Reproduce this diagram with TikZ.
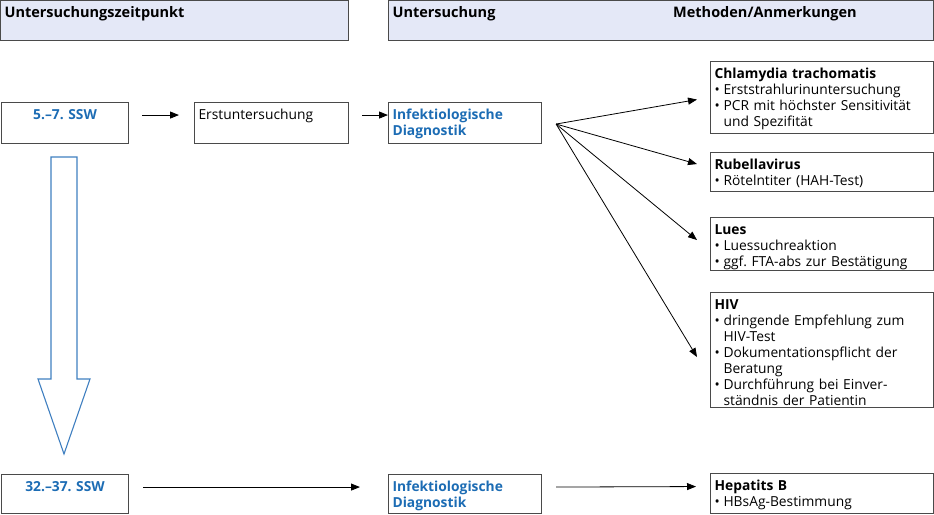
\documentclass[tikz,border=0pt]{standalone}
\usepackage{fontspec}
\setmainfont{Open Sans}
\usetikzlibrary{arrows.meta}
\definecolor{kopf}{HTML}{E4E8F7}
\definecolor{blau}{HTML}{1C6CB4}
\definecolor{pfeilblau}{HTML}{3F7FC0}
\definecolor{rand}{HTML}{4A4A4A}
\frenchspacing
\newcommand{\pkt}[1]{\par\hangindent=9pt\hangafter=1\noindent\makebox[9pt][l]{\textbullet}#1\par}
\begin{document}
\begin{tikzpicture}[x=1pt,y=-1pt,
  feld/.style 2 args={draw=rand, line width=1.1pt, anchor=north west, align=left, inner xsep=4pt, inner ysep=2pt,
    text width=#1, text height=15pt, text depth=#2, font=\fontsize{13.8}{16}\selectfont},
  kopffeld/.style={font=\fontsize{14.5}{16}\selectfont\bfseries},
  pfeil/.style={-{Triangle[length=9pt,width=7pt]}, line width=0.8pt}]
\useasboundingbox (0,0) rectangle (934,514);
\node[feld={340pt}{21pt}, fill=kopf, kopffeld] (kopfL) at (0,0) {Untersuchungszeitpunkt};
\node[feld={537pt}{21pt}, fill=kopf, kopffeld] (kopfR) at (388,0) {Untersuchung};
\node[kopffeld, anchor=base west, inner sep=0pt] (meth) at (673,17) {Methoden/Anmerkungen};
\node[feld={119pt}{22pt}, align=center, text=blau] (ssw1) at (1,102) {\textbf{5.–7. SSW}};
\node[feld={146pt}{22pt}] (erst) at (194,102) {Erstuntersuchung};
\node[feld={145pt}{22pt}, text=blau] (inf1) at (388,102) {\textbf{Infektiologische\\Diagnostik}};
\node[feld={215pt}{53pt}] (chl) at (710,61) {\textbf{Chlamydia trachomatis}
  \pkt{Erststrahlurinuntersuchung}
  \pkt{PCR mit höchster Sensitivität\newline und Spezifität}};
\node[feld={215pt}{20pt}] (rub) at (710,152) {\textbf{Rubellavirus}
  \pkt{Rötelntiter (HAH-Test)}};
\node[feld={215pt}{34pt}] (lues) at (710,217) {\textbf{Lues}
  \pkt{Luessuchreaktion}
  \pkt{ggf. FTA-abs zur Bestätigung}};
\node[feld={215pt}{96pt}] (hiv) at (710,292) {\textbf{HIV}
  \pkt{dringende Empfehlung zum\newline HIV-Test}
  \pkt{Dokumentationspflicht der\newline Beratung}
  \pkt{Durchführung bei Einver-\newline ständnis der Patientin}};
\node[feld={119pt}{20pt}, align=center, text=blau] (ssw2) at (1,474) {\textbf{32.–37. SSW}};
\node[feld={145pt}{20pt}, text=blau] (inf2) at (388,474) {\textbf{Infektiologische\\Diagnostik}};
\node[feld={215pt}{21pt}] (hep) at (710,473) {\textbf{Hepatits B}
  \pkt{HBsAg-Bestimmung}};
\draw[pfeil] ([xshift=13pt,yshift=8pt]ssw1.east) -- ([xshift=-15pt,yshift=8pt]erst.west);
\draw[pfeil] ([xshift=13pt,yshift=8pt]erst.east) -- ([yshift=8pt]inf1.west);
\coordinate (fan) at ([xshift=14pt,yshift=-1pt]inf1.east);
\draw[pfeil] (fan) -- ([xshift=-13pt,yshift=-2pt]chl.west);
\draw[pfeil] (fan) -- ([xshift=-13pt,yshift=8pt]rub.west);
\draw[pfeil] (fan) -- ([xshift=-13pt,yshift=4pt]lues.west);
\draw[pfeil] (fan) -- ([xshift=-13pt,yshift=-7pt]hiv.west);
\draw[pfeil] ([xshift=14pt,yshift=7pt]ssw2.east) -- ([xshift=-28pt,yshift=7pt]inf2.west);
\draw[pfeil] ([xshift=14pt,yshift=7pt]inf2.east) -- ([xshift=-14pt,yshift=7pt]hep.west);
\draw[pfeilblau, line width=1.1pt] (51,157) -- (77,157) -- (77,379) -- (90,379) -- (64,454) -- (38,379) -- (51,379) -- cycle;
\end{tikzpicture}
\end{document}
